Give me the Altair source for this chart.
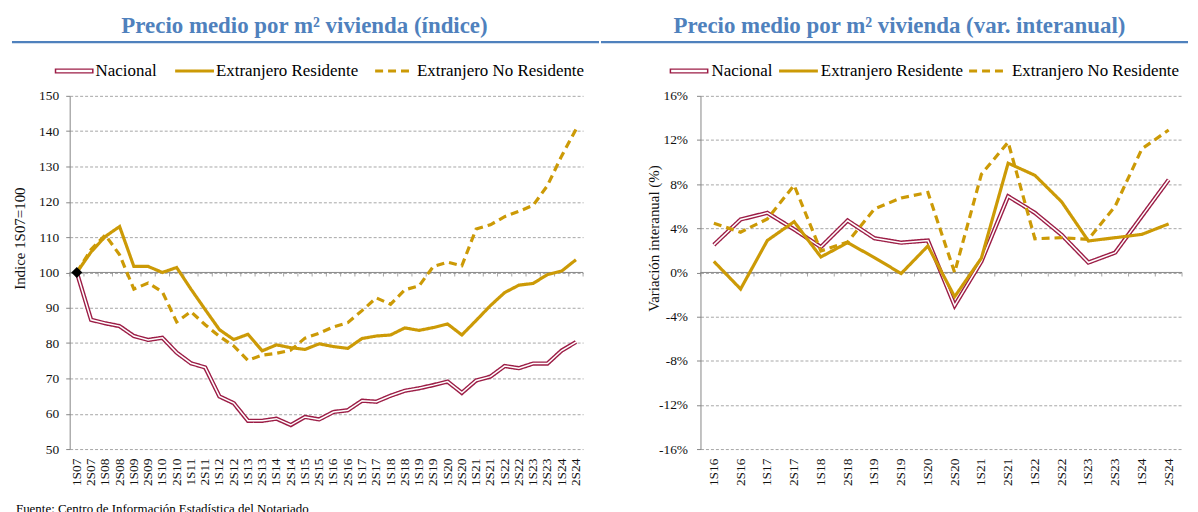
import altair as alt
import pandas as pd

# ---------------- data ----------------
periods_idx = ["1S07", "2S07", "1S08", "2S08", "1S09", "2S09", "1S10", "2S10", "1S11", "2S11",
               "1S12", "2S12", "1S13", "2S13", "1S14", "2S14", "1S15", "2S15", "1S16", "2S16",
               "1S17", "2S17", "1S18", "2S18", "1S19", "2S19", "1S20", "2S20", "1S21", "2S21",
               "1S22", "2S22", "1S23", "2S23", "1S24", "2S24"]
periods_var = ["1S16", "2S16", "1S17", "2S17", "1S18", "2S18", "1S19", "2S19", "1S20", "2S20",
               "1S21", "2S21", "1S22", "2S22", "1S23", "2S23", "1S24", "2S24"]
series_names = ["Nacional", "Extranjero Residente", "Extranjero No Residente"]

idx_nacional = [100.0, 86.6, 85.6, 84.8, 82.0, 80.9, 81.5, 77.3, 74.3, 73.1, 64.9, 63.0, 58.0, 58.0,
                58.6, 56.8, 59.1, 58.4, 60.5, 61.0, 63.7, 63.4, 65.1, 66.5, 67.2, 68.1, 69.1, 65.9,
                69.4, 70.5, 73.5, 72.9, 74.2, 74.2, 77.9, 80.3]
idx_residente = [100.0, 105.8, 110.2, 113.0, 101.7, 101.7, 100.0, 101.4, 95.3, 89.5, 83.8, 81.0,
                 82.5, 77.8, 79.5, 78.7, 78.2, 79.8, 79.0, 78.5, 81.3, 82.0, 82.3, 84.3, 83.6, 84.4,
                 85.4, 82.3, 86.4, 90.6, 94.3, 96.4, 96.9, 99.4, 100.4, 103.6]
idx_no_residente = [100.0, 106.5, 110.6, 105.0, 95.3, 97.0, 94.5, 86.0, 88.9, 85.2, 81.9, 79.2,
                    75.1, 76.6, 77.1, 78.0, 81.4, 82.8, 84.6, 85.8, 89.2, 92.8, 91.0, 95.1, 96.2,
                    101.7, 102.9, 101.9, 112.3, 113.5, 115.8, 117.3, 119.0, 124.6, 133.0, 140.5]

var_nacional = [2.5, 4.8, 5.4, 3.9, 2.3, 4.7, 3.1, 2.7, 2.9, -3.0, 1.0, 6.9, 5.4, 3.4, 0.9, 1.8, 5.1, 8.4]
var_residente = [1.0, -1.5, 2.9, 4.6, 1.4, 2.7, 1.35, -0.1, 2.4, -2.2, 1.3, 9.9, 8.8, 6.4, 2.85,
                 3.15, 3.45, 4.4]
var_no_residente = [4.45, 3.65, 4.85, 7.9, 1.95, 2.75, 5.75, 6.75, 7.25, 0.0, 8.9, 11.8, 3.05, 3.15,
                    3.0, 6.0, 11.2, 12.9]

idx_ticks = [50, 60, 70, 80, 90, 100, 110, 120, 130, 140, 150]
var_ticks = [-16, -12, -8, -4, 0, 4, 8, 12, 16]

title_idx = "Precio medio por m² vivienda (índice)"
title_var = "Precio medio por m² vivienda (var. interanual)"
ytitle_idx = "Indice 1S07=100"
ytitle_var = "Variación interanual (%)"
source_text = ["Fuente: Centro de Información Estadística del Notariado"]

# ---------------- styles ----------------
MAROON = "#9C1D46"
GOLD = "#CC9A06"
BLUE = "#4F81BD"
AXIS_GRAY = "#868686"
GRID_GRAY = "#A6A6A6"
FONT = "Liberation Serif"
H = 355
LEG_Y = -25
SYM_LEN = 39
series_color = {"Nacional": MAROON, "Extranjero Residente": GOLD, "Extranjero No Residente": GOLD}
series_dash = {"Nacional": [1, 0], "Extranjero Residente": [1, 0], "Extranjero No Residente": [8, 5]}


def to_long(periods, columns):
    rows = []
    for name, vals in zip(series_names, columns):
        for i, (p, v) in enumerate(zip(periods, vals)):
            rows.append({"period": p, "series": name, "value": v, "order": i})
    return pd.DataFrame(rows)


one = pd.DataFrame({"a": [0]})


def legend_layers(sym_x, text_x):
    layers = []
    for name, sx, tx in zip(series_names, sym_x, text_x):
        d = pd.DataFrame({"label": [name]})
        if name == "Nacional":
            layers.append(alt.Chart(d).mark_rule(color=MAROON, strokeWidth=5).encode(
                x=alt.value(sx), x2=alt.value(sx + SYM_LEN), y=alt.value(LEG_Y)))
            layers.append(alt.Chart(d).mark_rule(color="white", strokeWidth=2.4).encode(
                x=alt.value(sx + 1.5), x2=alt.value(sx + SYM_LEN - 1.5), y=alt.value(LEG_Y)))
        else:
            layers.append(alt.Chart(d).mark_rule(color=series_color[name], strokeWidth=3.2,
                                                 strokeDash=series_dash[name]).encode(
                x=alt.value(sx), x2=alt.value(sx + SYM_LEN), y=alt.value(LEG_Y)))
        layers.append(alt.Chart(d).mark_text(align="left", baseline="middle", font=FONT,
                                             fontSize=17, color="#000").encode(
            text="label:N", x=alt.value(tx), y=alt.value(LEG_Y)))
    return layers


def make_panel(df, periods, W, ydom, yticks, base, title, title_dx, ytitle, ytitle_x,
               label_expr, label_pad, sym_x, text_x, line_x1, line_x2, extra=None, source=False):
    xscale = alt.Scale(type="band", domain=periods, paddingInner=0, paddingOuter=0)
    xaxis = alt.Axis(title=None, labelAngle=270, labelAlign="right", labelBaseline="middle",
                     labelPadding=9, labelFontSize=13.5, labelColor="#111", labelFont=FONT,
                     ticks=False, domain=False, grid=False, labelOverlap=False)
    yscale = alt.Scale(domain=ydom, nice=False, zero=False)
    yaxis_kw = dict(values=yticks, tickCount=len(yticks), title=ytitle, titleFont=FONT,
                    titleFontSize=15, titleFontWeight="normal", titleColor="#111", titleAngle=270,
                    titleX=ytitle_x, titleY=143, titleAlign="center", titleBaseline="middle",
                    labelFont=FONT, labelFontSize=13.5, labelColor="#111", labelPadding=label_pad,
                    labelOverlap=False, tickSize=4, tickColor=AXIS_GRAY, domainColor=AXIS_GRAY,
                    grid=True, gridColor=GRID_GRAY, gridDash=[3, 2])
    if label_expr:
        yaxis_kw["labelExpr"] = label_expr
    yaxis = alt.Axis(**yaxis_kw)

    color = alt.Color("series:N", scale=alt.Scale(domain=series_names,
                                                  range=[series_color[s] for s in series_names]),
                      legend=None)
    dash = alt.StrokeDash("series:N", scale=alt.Scale(domain=series_names,
                                                      range=[series_dash[s] for s in series_names]),
                          legend=None)

    def X():
        return alt.X("period:N", sort=periods, scale=xscale, axis=xaxis)

    def Y():
        return alt.Y("value:Q", scale=yscale, axis=yaxis)

    baseline = alt.Chart(one).mark_rule(color=AXIS_GRAY, strokeWidth=1).encode(y=alt.datum(base))
    cat_df = pd.DataFrame({"period": periods})
    ticks = alt.Chart(cat_df).mark_tick(orient="vertical", size=4, thickness=1, color=AXIS_GRAY,
                                        yOffset=2).encode(
        x=alt.X("period:N", sort=periods, scale=xscale, axis=xaxis, bandPosition=0),
        y=alt.datum(base))
    end_tick = alt.Chart(one).mark_tick(orient="vertical", size=4, thickness=1, color=AXIS_GRAY,
                                        yOffset=2).encode(x=alt.value(W), y=alt.datum(base))

    nac = alt.Chart(df).transform_filter(alt.datum.series == "Nacional")
    nac_outer = nac.mark_line(strokeWidth=4.3).encode(x=X(), y=Y(), color=color, strokeDash=dash,
                                                      order="order:Q")
    nac_inner = nac.mark_line(strokeWidth=1.5, color="white").encode(x=X(), y=Y(), order="order:Q")
    ext = alt.Chart(df).transform_filter(alt.datum.series != "Nacional").mark_line(
        strokeWidth=3.2).encode(x=X(), y=Y(), color=color, strokeDash=dash, order="order:Q")

    underline = alt.Chart(one).mark_rule(color=BLUE, strokeWidth=2.3).encode(
        x=alt.value(line_x1), x2=alt.value(line_x2), y=alt.value(-54))

    layers = [baseline, ticks, end_tick, nac_outer, nac_inner, ext]
    if extra is not None:
        layers.append(extra(X, Y))
    layers.append(underline)
    layers.extend(legend_layers(sym_x, text_x))
    if source:
        src = alt.Chart(pd.DataFrame({"t": source_text})).mark_text(
            align="left", baseline="alphabetic", font=FONT, fontSize=13, color="#000").encode(
            text="t:N", x=alt.value(-54), y=alt.value(H + 64))
        layers.append(src)

    return alt.layer(*layers).properties(
        width=W, height=H,
        title=alt.TitleParams(text=title, font=FONT, fontSize=23, fontWeight="bold", color=BLUE,
                              anchor="middle", dx=title_dx, offset=3))


df_idx = to_long(periods_idx, [idx_nacional, idx_residente, idx_no_residente])
df_var = to_long(periods_var, [var_nacional, var_residente, var_no_residente])
df_start = pd.DataFrame({"period": [periods_idx[0]], "value": [idx_nacional[0]]})


def diamond(X, Y):
    return alt.Chart(df_start).mark_point(shape="diamond", filled=True, color="black", size=121,
                                          opacity=1).encode(x=X(), y=Y())


left = make_panel(df_idx, periods_idx, 516, [50, 150], idx_ticks, 100, title_idx, -22, ytitle_idx,
                  -50, None, 7, [-15, 106, 307], [26, 147, 349], -58, 532,
                  extra=diamond, source=True)
right = make_panel(df_var, periods_var, 484, [-16, 16], var_ticks, 0, title_var, -42, ytitle_var,
                   -47, "datum.value + '%'", 9, [-31, 79, 270], [11, 121, 313], -100, 490)

chart = alt.hconcat(left, right, spacing=-2).resolve_scale(
    x="independent", y="independent", color="independent", strokeDash="independent"
).configure(
    padding={"left": 2, "top": 5, "right": 0, "bottom": 0}
).configure_view(stroke=None)

chart.save("out.html", embed_options={"renderer": "svg", "actions": False})
